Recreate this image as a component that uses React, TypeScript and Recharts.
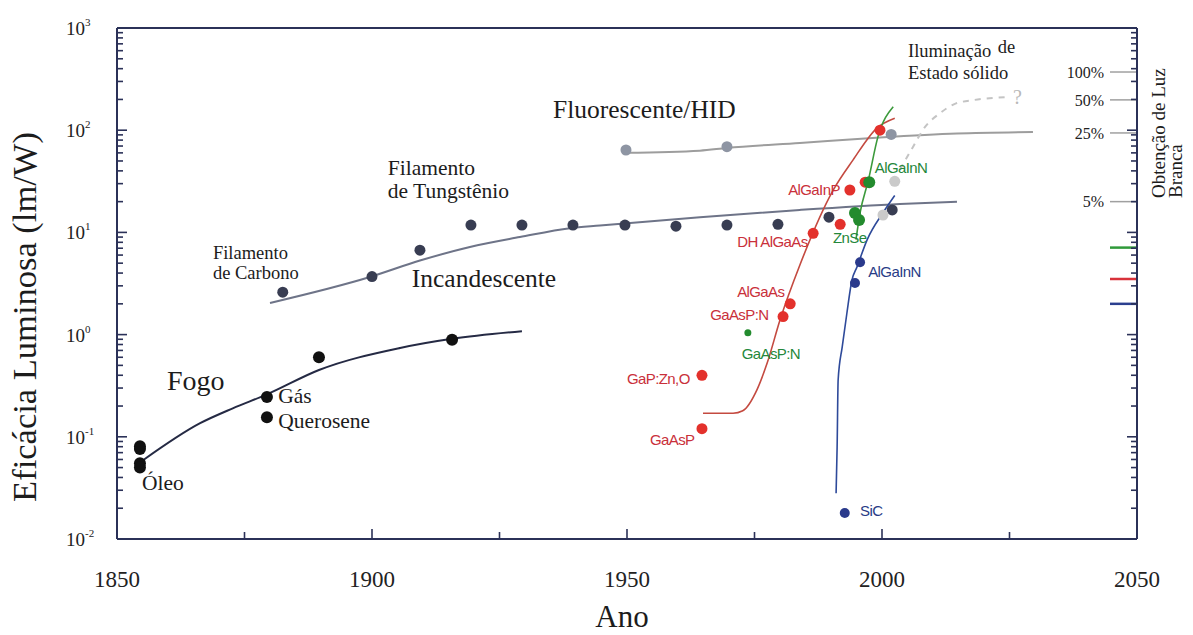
import React from 'react';
import { ComposedChart, Line, Scatter, XAxis, YAxis, ReferenceLine } from 'recharts';

type Pt = [number, number];

// curvas (ano, lm/W)
const fogoCurve: Pt[] = [[1855.1, 0.059], [1866.3, 0.136], [1872.7, 0.19], [1879.4, 0.26], [1889.6, 0.45], [1905.5, 0.74], [1915.7, 0.91], [1929.4, 1.08]];
const incandescenteCurve: Pt[] = [[1880, 2.04], [1899.6, 3.66], [1909.4, 5.3], [1919.2, 7.2], [1929, 9.0], [1938.8, 11.0], [1944.7, 11.7], [1964.3, 14.1], [1983.9, 16.6], [2003.5, 19.0], [2014.7, 20]];
const fluorescenteCurve: Pt[] = [[1949.8, 60], [1964.3, 63], [1969.6, 67], [1983.9, 75], [1999.6, 85], [2014.7, 93], [2029.6, 96]];
const redLedCurve: Pt[] = [[1964.9, 0.17], [1970.8, 0.17], [1972.7, 0.18], [1975.5, 0.29], [1977.5, 0.53], [1980.0, 1.39], [1983.9, 4.8], [1990.4, 25.8], [1994.3, 51], [1999.0, 105], [2002.5, 131]];
const greenLedCurve: Pt[] = [[1994.9, 8.5], [1995.7, 15.5], [1997.3, 32], [1999.2, 86], [2002.2, 170]];
const blueLedCurve: Pt[] = [[1991.0, 0.028], [1991.2, 0.079], [1991.4, 0.36], [1992.2, 0.76], [1993.1, 1.6], [1994.1, 3.4], [1995.1, 4.6], [1997.1, 8.5], [2000.2, 15.6], [2002.5, 23]];
const solidStateCurve: Pt[] = [[2003.5, 41], [2006.1, 69], [2008.4, 107], [2011.4, 147], [2014.3, 181], [2018.2, 198], [2024.5, 211]];

// pontos
const fogoDots: Pt[] = [[1854.5, 0.081], [1854.5, 0.076], [1854.5, 0.055], [1854.5, 0.05], [1879.4, 0.245], [1879.4, 0.155], [1889.6, 0.6], [1915.7, 0.89]];
const incandescenteDots: Pt[] = [[1882.5, 2.6], [1900, 3.7], [1909.4, 6.7], [1919.4, 11.8], [1929.4, 11.8], [1939.4, 11.8], [1949.6, 11.8], [1959.6, 11.5], [1969.6, 11.8], [1979.6, 12], [1989.6, 14.1], [2002, 16.6]];
const fluorescenteDots: Pt[] = [[1949.8, 64], [1969.6, 69], [2001.8, 91]];
const paleDots: Pt[] = [[2000.2, 14.8], [2002.5, 31.6]];
const redDots: Pt[] = [[1964.7, 0.12], [1964.7, 0.4], [1980.6, 1.5], [1982, 2.0], [1986.5, 9.8], [1991.8, 12], [1993.7, 26], [1996.7, 31], [1999.6, 100]];
const greenDots: Pt[] = [[1994.7, 15.5], [1995.5, 13.2], [1997.5, 31]];
const greenSmallDots: Pt[] = [[1973.7, 1.04]];
const blueDots: Pt[] = [[1992.7, 0.018], [1994.7, 3.2], [1995.7, 5.1]];

// eixos
const xMajor = [1850, 1900, 1950, 2000, 2050];
const xMinor = [1875, 1925, 1975, 2025];
const yDecades = [0.01, 0.1, 1, 10, 100, 1000];
const yExponents = ['-2', '-1', '0', '1', '2', '3'];
const yMinorSteps = [2, 3, 4, 5, 6, 7, 8, 9];

// escala de luz branca (lado direito)
const whiteLabels = ['100%', '50%', '25%', '5%'];
const whiteValues = [371, 198, 94, 20];
const colorMarkValues = [7.1, 3.5, 2.0];
const colorMarkColors = ['#2f9a3a', '#d8323a', '#2b3f8f'];

// textos dentro do gráfico
const serifNotes = [
  { text: 'Fogo', x: 1859.8, y: 0.287, kind: 'xl' },
  { text: 'Gás', x: 1881.6, y: 0.215, kind: 'm' },
  { text: 'Querosene', x: 1881.6, y: 0.122, kind: 'm' },
  { text: 'Óleo', x: 1854.9, y: 0.03, kind: 'm' },
  { text: 'Filamento', x: 1868.8, y: 5.5, kind: 's' },
  { text: 'de Carbono', x: 1868.8, y: 3.5, kind: 's' },
  { text: 'Filamento', x: 1903.1, y: 36.5, kind: 'm' },
  { text: 'de Tungstênio', x: 1903.1, y: 21.7, kind: 'm' },
  { text: 'Incandescente', x: 1907.8, y: 2.92, kind: 'l' },
  { text: 'Fluorescente/HID', x: 1935.5, y: 131.5, kind: 'l' },
  { text: 'Iluminação', x: 2005.1, y: 520, kind: 's' },
  { text: 'de', x: 2022.7, y: 569, kind: 's' },
  { text: 'Estado sólido', x: 2005.1, y: 317, kind: 's' },
  { text: '?', x: 2025.7, y: 180, kind: 'q' },
];

const ledNotes = [
  { text: 'AlGaInP', x: 1981.6, y: 23.2, kind: 'red' },
  { text: 'DH AlGaAs', x: 1971.6, y: 7.2, kind: 'red' },
  { text: 'AlGaAs', x: 1971.6, y: 2.33, kind: 'red' },
  { text: 'GaAsP:N', x: 1966.3, y: 1.39, kind: 'red' },
  { text: 'GaP:Zn,O', x: 1950.0, y: 0.329, kind: 'red' },
  { text: 'GaAsP', x: 1954.5, y: 0.083, kind: 'red' },
  { text: 'GaAsP:N', x: 1972.5, y: 0.577, kind: 'green' },
  { text: 'ZnSe', x: 1990.4, y: 7.87, kind: 'green' },
  { text: 'AlGaInN', x: 1998.6, y: 38.1, kind: 'green' },
  { text: 'AlGaInN', x: 1997.3, y: 3.66, kind: 'blue' },
  { text: 'SiC', x: 1995.7, y: 0.0168, kind: 'blue' },
];

const AXIS = '#2b3158';
const SERIF = '"Liberation Serif", "Times New Roman", serif';
const SANS = '"Liberation Sans", Arial, sans-serif';

const noteStyle: Record<string, { size: number; fill: string; font: string; spacing?: number }> = {
  xl: { size: 28, fill: '#1c1c1c', font: SERIF },
  l: { size: 25.5, fill: '#1c1c1c', font: SERIF },
  m: { size: 21.5, fill: '#1c1c1c', font: SERIF },
  s: { size: 18.5, fill: '#1c1c1c', font: SERIF },
  q: { size: 20, fill: '#b8b8b8', font: SERIF },
  red: { size: 15, fill: '#c9303a', font: SANS, spacing: -0.6 },
  green: { size: 15, fill: '#24873a', font: SANS, spacing: -0.6 },
  blue: { size: 15, fill: '#283c86', font: SANS, spacing: -0.6 },
};

const toData = (pts: Pt[]) => pts.map(([x, y]) => ({ x, y }));

const yTicks = yDecades.flatMap((d, i) => (i < yDecades.length - 1 ? [d, ...yMinorSteps.map(m => d * m)] : [d]));
const xTicks = [...xMajor, ...xMinor].sort((a, b) => a - b);

const decadeIndex = (v: number) => yDecades.findIndex(d => Math.abs(d - v) / d < 1e-6);

const LeftTick = (p: any) => {
  const i = decadeIndex(p.payload.value);
  const major = i >= 0;
  return (
    <g>
      <line x1={p.x} x2={p.x + (major ? 10 : 6)} y1={p.y} y2={p.y} stroke={AXIS} strokeWidth={1.6} />
      {major && (
        <text x={p.x - 51} y={p.y + 7} fontFamily={SERIF} fontSize={19} fill="#222">
          10<tspan dy={-9} fontSize={11}>{yExponents[i]}</tspan>
        </text>
      )}
    </g>
  );
};

const RightTick = (p: any) => {
  const major = decadeIndex(p.payload.value) >= 0;
  return <line x1={p.x} x2={p.x - (major ? 10 : 6)} y1={p.y} y2={p.y} stroke={AXIS} strokeWidth={1.6} />;
};

const BottomTick = (p: any) => {
  const major = xMajor.includes(p.payload.value);
  return (
    <g>
      <line x1={p.x} x2={p.x} y1={p.y} y2={p.y - (major ? 10 : 7)} stroke={AXIS} strokeWidth={1.6} />
      {major && (
        <text x={p.x} y={p.y + 48} textAnchor="middle" fontFamily={SERIF} fontSize={23} fill="#222">
          {p.payload.value}
        </text>
      )}
    </g>
  );
};

const TopTick = (p: any) => {
  const major = xMajor.includes(p.payload.value);
  return <line x1={p.x} x2={p.x} y1={p.y} y2={p.y + (major ? 10 : 7)} stroke={AXIS} strokeWidth={1.6} />;
};

const dot = (r: number, fill: string) => (p: any) => <circle cx={p.cx} cy={p.cy} r={r} fill={fill} />;

const noteShape = (p: any) => {
  const s = noteStyle[p.payload.kind];
  return (
    <text x={p.cx} y={p.cy} fontFamily={s.font} fontSize={s.size} fill={s.fill} letterSpacing={s.spacing ?? 0}>
      {p.payload.text}
    </text>
  );
};

const YTitle = () => (
  <text x={36} y={317} transform="rotate(-90 36 317)" textAnchor="middle" fontFamily={SERIF} fontSize={34.5} fill="#1c1c1c">
    Eficácia Luminosa (lm/W)
  </text>
);

const XTitle = () => (
  <text x={622} y={627} textAnchor="middle" fontFamily={SERIF} fontSize={31} fill="#1c1c1c">
    Ano
  </text>
);

const RightTitle = () => (
  <g fontFamily={SERIF} fontSize={19} fill="#1c1c1c">
    <text x={1165} y={198} transform="rotate(-90 1165 198)">Obtenção de Luz</text>
    <text x={1182} y={198} transform="rotate(-90 1182 198)">Branca</text>
  </g>
);

const lineProps = { type: 'monotone' as const, dataKey: 'y', xAxisId: 'b', yAxisId: 'l', dot: false, activeDot: false, isAnimationActive: false };
const scatterProps = { dataKey: 'y', xAxisId: 'b', yAxisId: 'l', isAnimationActive: false };

export default function App() {
  return (
    <div style={{ position: 'absolute', left: 0, top: 0, background: '#fff' }}>
      <ComposedChart width={1193} height={635} margin={{ top: 18, right: 16, bottom: 36, left: 17 }}>
        <XAxis
          xAxisId="b"
          dataKey="x"
          type="number"
          domain={[1850, 2050]}
          allowDataOverflow
          ticks={xTicks}
          interval={0}
          tickSize={0}
          tickMargin={0}
          tick={BottomTick}
          height={60}
          axisLine={{ stroke: AXIS, strokeWidth: 2 }}
          label={XTitle}
        />
        <XAxis
          xAxisId="t"
          orientation="top"
          type="number"
          domain={[1850, 2050]}
          allowDataOverflow
          ticks={xTicks}
          interval={0}
          tickSize={0}
          tickMargin={0}
          tick={TopTick}
          height={10}
          axisLine={{ stroke: AXIS, strokeWidth: 2 }}
        />
        <YAxis
          yAxisId="l"
          dataKey="y"
          type="number"
          scale="log"
          domain={[0.01, 1000]}
          allowDataOverflow
          ticks={yTicks}
          interval={0}
          tickSize={0}
          tickMargin={0}
          tick={LeftTick}
          width={100}
          axisLine={{ stroke: AXIS, strokeWidth: 2 }}
          label={YTitle}
        />
        <YAxis
          yAxisId="r"
          orientation="right"
          type="number"
          scale="log"
          domain={[0.01, 1000]}
          allowDataOverflow
          ticks={yTicks}
          interval={0}
          tickSize={0}
          tickMargin={0}
          tick={RightTick}
          width={40}
          axisLine={{ stroke: AXIS, strokeWidth: 2 }}
          label={RightTitle}
        />

        <Line {...lineProps} data={toData(fogoCurve)} stroke="#252a44" strokeWidth={2} />
        <Line {...lineProps} data={toData(incandescenteCurve)} stroke="#6e7488" strokeWidth={2} />
        <Line {...lineProps} data={toData(fluorescenteCurve)} stroke="#9d9d9d" strokeWidth={2} />
        <Line {...lineProps} data={toData(solidStateCurve)} stroke="#c4c4c4" strokeWidth={2} strokeDasharray="6 6" />
        <Line {...lineProps} data={toData(redLedCurve)} stroke="#c44a40" strokeWidth={1.6} />
        <Line {...lineProps} data={toData(greenLedCurve)} stroke="#3c9a3c" strokeWidth={1.6} />
        <Line {...lineProps} data={toData(blueLedCurve)} stroke="#2e4a9a" strokeWidth={1.6} />

        <Scatter {...scatterProps} data={toData(fogoDots)} shape={dot(6, '#111')} />
        <Scatter {...scatterProps} data={toData(incandescenteDots)} shape={dot(5.5, '#383d52')} />
        <Scatter {...scatterProps} data={toData(fluorescenteDots)} shape={dot(5.5, '#8e95a3')} />
        <Scatter {...scatterProps} data={toData(paleDots)} shape={dot(5.5, '#cacaca')} />
        <Scatter {...scatterProps} data={toData(redDots)} shape={dot(5.5, '#e3312c')} />
        <Scatter {...scatterProps} data={toData(greenDots)} shape={dot(6, '#238b2e')} />
        <Scatter {...scatterProps} data={toData(greenSmallDots)} shape={dot(3.5, '#238b2e')} />
        <Scatter {...scatterProps} data={toData(blueDots)} shape={dot(5, '#2a3a8c')} />

        <Scatter {...scatterProps} data={serifNotes} shape={noteShape} />
        <Scatter {...scatterProps} data={ledNotes} shape={noteShape} />

        {whiteLabels.map((lab, i) => (
          <ReferenceLine
            key={lab}
            xAxisId="b"
            yAxisId="l"
            segment={[{ x: 2044.7, y: whiteValues[i] }, { x: 2050, y: whiteValues[i] }]}
            stroke="#a0a0a0"
            strokeWidth={1.5}
            label={{ value: lab, position: 'left', offset: 6, fill: '#222', fontSize: 16, fontFamily: SERIF }}
          />
        ))}
        {colorMarkValues.map((v, i) => (
          <ReferenceLine
            key={v}
            xAxisId="b"
            yAxisId="l"
            segment={[{ x: 2044.7, y: v }, { x: 2050, y: v }]}
            stroke={colorMarkColors[i]}
            strokeWidth={2.5}
          />
        ))}
      </ComposedChart>
    </div>
  );
}
